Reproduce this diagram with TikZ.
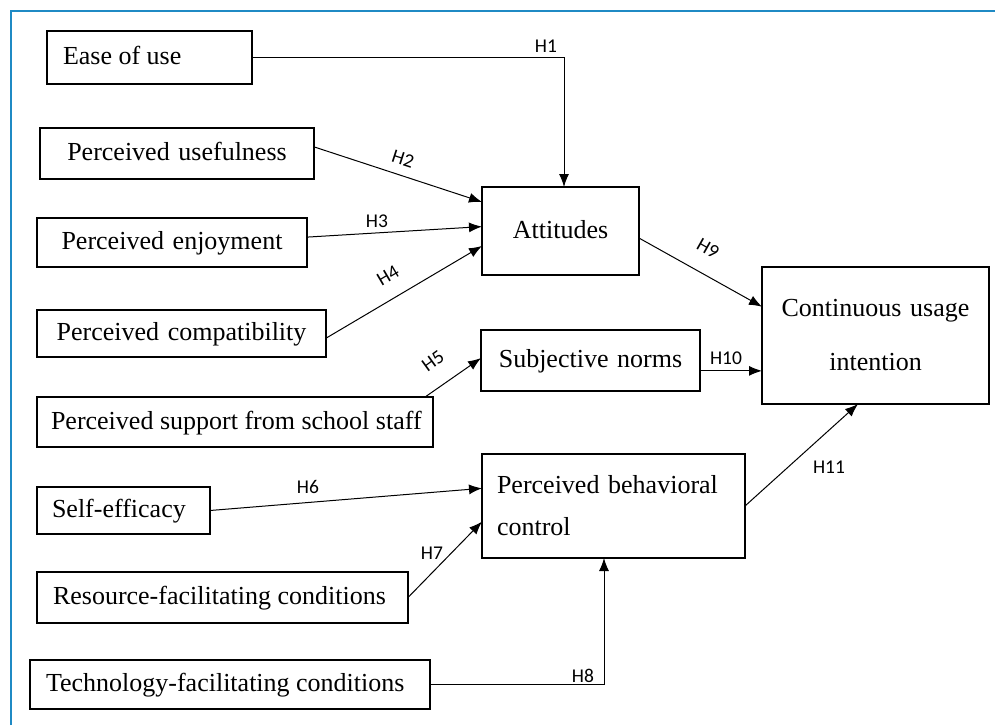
\documentclass[tikz,border=0pt]{standalone}
\usepackage{fontspec}
\setmainfont{Liberation Serif}
\newfontfamily\lblfont{Carlito}
\usetikzlibrary{arrows.meta,calc}
\definecolor{frameblue}{RGB}{31,138,196}
\newcommand{\lbox}[2]{\makebox[#1][l]{#2}}
\begin{document}
\begin{tikzpicture}[x=1pt,y=-1pt,
  box/.style={draw, line width=1.5pt, anchor=north west, outer sep=0pt, inner ysep=0pt,
    font=\fontsize{26}{31}\selectfont, text height=17pt, text depth=3pt},
  boxtwo/.style={draw, line width=1.5pt, anchor=north west, outer sep=0pt, inner ysep=0pt},
  conn/.style={line width=1pt, -{Latex[length=13pt,width=10pt]}},
  lbl/.style={font=\lblfont\fontsize{19.5}{21}\selectfont, inner sep=0pt}]
\useasboundingbox (0,0) rectangle (995,725);
\fill[white] (0,0) rectangle (995,725);
\draw[frameblue, line width=2.2pt] (11,725) -- (11,11) -- (995,11);

% boxes
\node[box, inner xsep=16pt, minimum height=53pt] (ease) at (47,31) {\lbox{173pt}{Ease of use}};
\node[box, text width=272pt, inner xsep=1pt, align=center, minimum height=51pt] (pu) at (40,128) {Perceived usefulness};
\node[box, text width=268pt, inner xsep=1pt, align=center, minimum height=49pt] (pe) at (37,218) {Perceived enjoyment};
\node[box, text width=287pt, inner xsep=1pt, align=center, minimum height=47pt] (pc) at (37,310) {Perceived compatibility};
\node[box, inner xsep=14pt, minimum height=50pt] (ps) at (37,397) {\lbox{368pt}{Perceived support from school staff}};
\node[box, inner xsep=15pt, minimum height=47pt] (se) at (37,487) {\lbox{143pt}{Self-efficacy}};
\node[box, inner xsep=16pt, minimum height=51pt] (rf) at (37,572) {\lbox{339pt}{Resource-facilitating conditions}};
\node[box, inner xsep=16pt, minimum height=49pt] (tf) at (30,660) {\lbox{368pt}{Technology-facilitating conditions}};
\node[box, text width=155pt, inner xsep=1pt, align=center, minimum height=88pt] (att) at (482,187) {Attitudes};
\node[box, text width=217pt, inner xsep=1pt, align=center, minimum height=61pt] (sn) at (481,330) {Subjective norms};
\node[boxtwo, font=\fontsize{26}{42}\selectfont, text width=233pt, inner xsep=15pt, align=left, minimum height=104pt] (pbc) at (482,454) {Perceived behavioral\\control};
\node[boxtwo, font=\fontsize{26}{54}\selectfont, text width=225pt, inner xsep=1pt, align=center, minimum height=137pt] (cui) at (762,267) {Continuous usage\\intention};

% connectors
\draw[conn] (ease.east) -| ([xshift=3.5pt]att.north);
\draw[conn] ($(pu.north east)!0.37!(pu.south east)$) -- ($(att.north west)!0.17!(att.south west)$);
\draw[conn] ($(pe.north east)!0.39!(pe.south east)$) -- ($(att.north west)!0.45!(att.south west)$);
\draw[conn] ($(pc.north east)!0.6!(pc.south east)$) -- ($(att.north west)!0.67!(att.south west)$);
\draw[conn] ($(ps.north west)!0.98!(ps.north east)$) -- ($(sn.north west)!0.46!(sn.south west)$);
\draw[conn] (se.east) -- ($(pbc.north west)!0.33!(pbc.south west)$);
\draw[conn] (rf.east) -- ($(pbc.north west)!0.65!(pbc.south west)$);
\draw[conn] (tf.east) -| ([xshift=-9.5pt]pbc.south);
\draw[conn] ($(att.north east)!0.58!(att.south east)$) -- ($(cui.north west)!0.29!(cui.south west)$);
\coordinate (h10s) at ($(sn.north east)!0.67!(sn.south east)$);
\draw[conn] (h10s) -- (h10s -| cui.west);
\draw[conn] (pbc.east) -- ([xshift=-17.5pt]cui.south);

% labels
\node[lbl] (l1) at (546,46) {H1};
\node[lbl, rotate=-18] (l2) at (403,159) {H2};
\node[lbl] (l3) at (377,221) {H3};
\node[lbl, rotate=30.5] (l4) at (388,276) {H4};
\node[lbl, rotate=36] (l5) at (433,361) {H5};
\node[lbl] (l6) at (308,487) {H6};
\node[lbl] (l7) at (432,553) {H7};
\node[lbl] (l8) at (583,676) {H8};
\node[lbl, rotate=-29.5] (l9) at (708,248) {H9};
\node[lbl] (l10) at (726,358) {H10};
\node[lbl] (l11) at (829,467) {H11};
\end{tikzpicture}
\end{document}
